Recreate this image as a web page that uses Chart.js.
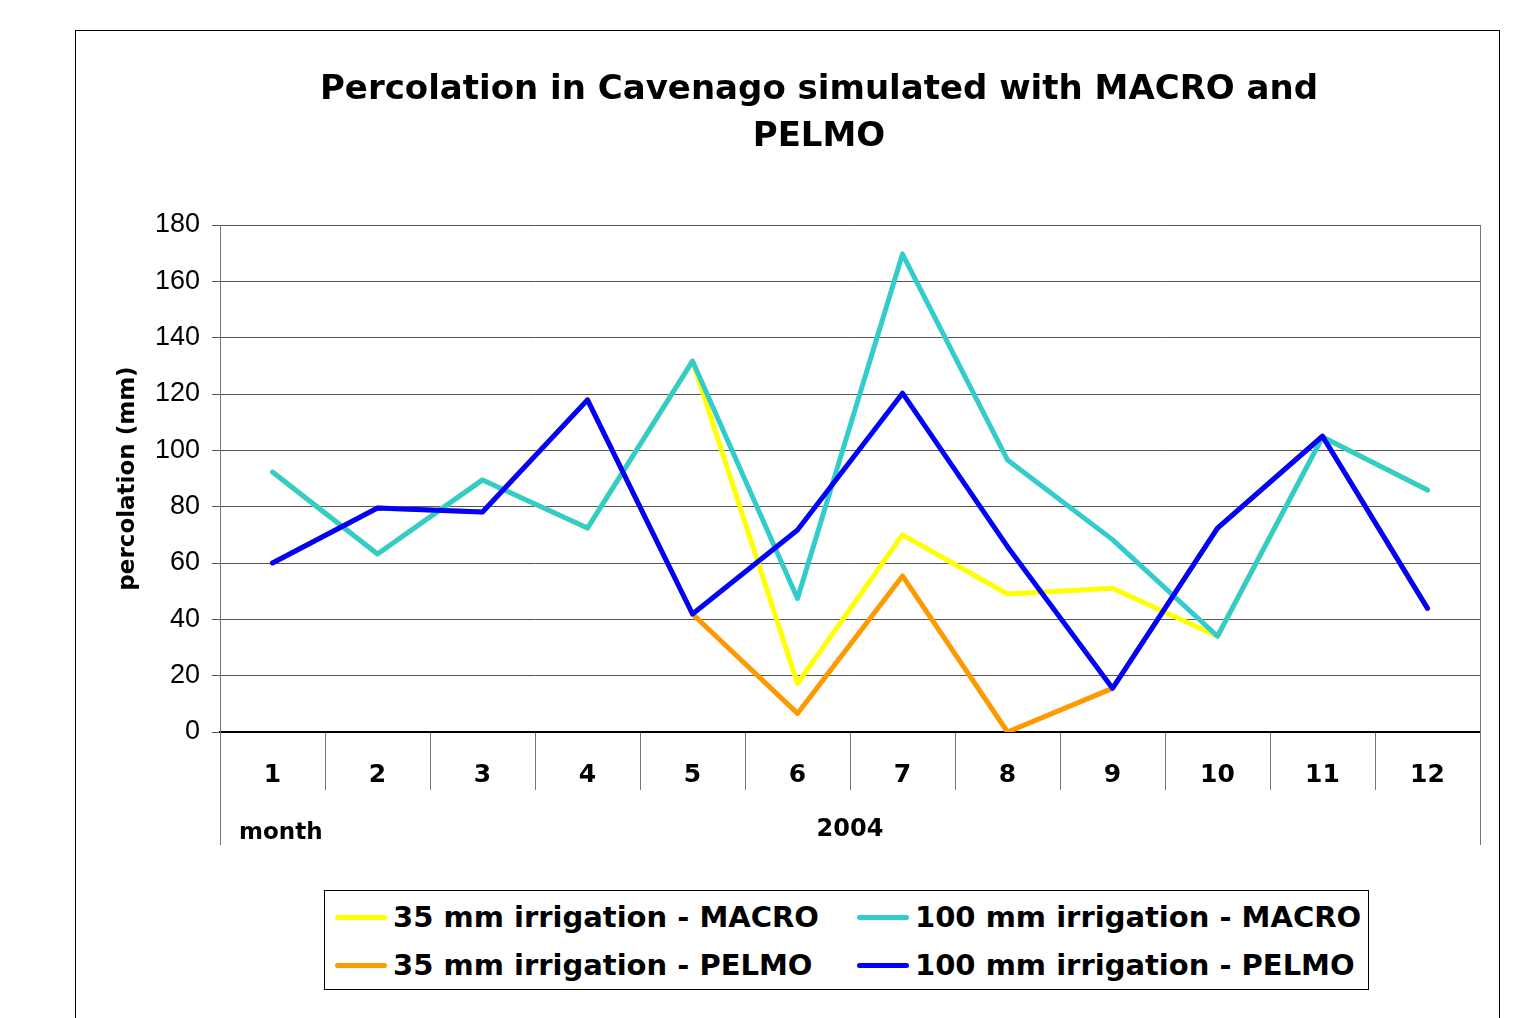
<!DOCTYPE html>
<html>
<head>
<meta charset="utf-8">
<script src="https://cdn.jsdelivr.net/npm/chart.js@4.4.1/dist/chart.umd.min.js"></script>
<style>
  html, body { margin: 0; padding: 0; background: #fff; }
  body { width: 1521px; height: 1018px; position: relative; overflow: hidden; font-family: "DejaVu Sans", Verdana, sans-serif; }
  #frame { position: absolute; left: 75px; top: 30px; width: 1423px; height: 1100px; border: 1px solid #000; }
  #wrap { position: absolute; left: 0; top: 0; width: 1521px; height: 1018px; }
  #legend { position: absolute; left: 324px; top: 890px; width: 1045px; height: 100px; border: 1px solid #000; background: #fff;
            display: grid; grid-template-columns: 532px 511px; grid-auto-rows: 48px; padding-top: 2px; box-sizing: border-box; }
  .item { display: flex; align-items: center; white-space: nowrap; font-weight: bold; font-size: 29px; color: #000; }
  .item:nth-child(odd) { padding-left: 10px; }
  .sw { width: 52px; height: 5px; border-radius: 3px; margin-right: 6px; flex: none; }
</style>
</head>
<body>
<div id="frame"></div>
<div id="wrap"><canvas id="perc-chart" width="1521" height="1018"></canvas></div>
<div id="legend"></div>
<script>
// Данные (мм перколяции по месяцам, 2004)
const months = ['1', '2', '3', '4', '5', '6', '7', '8', '9', '10', '11', '12'];
const macro35  = [92.3, 63.2, 89.5, 72.4, 131.7, 17.2, 70.0, 49.0, 51.0, 34.0, 104.7, 85.9];
const macro100 = [92.3, 63.2, 89.5, 72.4, 131.7, 47.4, 169.7, 96.6, 68.3, 34.0, 104.7, 85.9];
const pelmo35  = [60.0, 79.5, 78.1, 117.9, 41.9, 6.6, 55.4, 0.0, 15.5, 72.4, 105.0, 43.9];
const pelmo100 = [60.0, 79.5, 78.1, 117.9, 41.9, 71.7, 120.3, 65.8, 15.5, 72.4, 105.0, 43.9];
const titleLines = ['Percolation in Cavenago simulated with MACRO and', 'PELMO'];

const FONT = '"DejaVu Sans", Verdana, sans-serif';

// Заголовок, подпись "month" и рамка области построения
const extras = {
    id: 'extras',
    afterDraw(chart) {
        const c = chart.ctx;
        const area = chart.chartArea;
        const x = chart.scales.x;
        c.save();
        c.fillStyle = '#000';
        c.textAlign = 'center';
        c.textBaseline = 'middle';
        c.font = 'bold 34px ' + FONT;
        c.fillText(titleLines[0], 819, 90);
        c.fillText(titleLines[1], 819, 137);

        c.font = 'bold 23px ' + FONT;
        c.textAlign = 'left';
        c.fillText('month', area.left + 19, x.bottom - 12);

        c.strokeStyle = '#777';
        c.lineWidth = 1;
        c.beginPath();
        c.moveTo(area.right + 0.5, area.top);
        c.lineTo(area.right + 0.5, x.bottom);
        c.moveTo(area.left + 0.5, area.bottom);
        c.lineTo(area.left + 0.5, x.bottom);
        c.stroke();
        c.restore();
    }
};

const ctx = document.getElementById('perc-chart').getContext('2d');
const percChart = new Chart(ctx, {
    type: 'line',
    data: {
        labels: months,
        datasets: [
            { label: '35 mm irrigation - MACRO', data: macro35, borderColor: '#FFFF00', order: 4 },
            { label: '100 mm irrigation - MACRO', data: macro100, borderColor: '#33CCCC', order: 2 },
            { label: '35 mm irrigation - PELMO', data: pelmo35, borderColor: '#FF9900', order: 3 },
            { label: '100 mm irrigation - PELMO', data: pelmo100, borderColor: '#0000FF', order: 1 }
        ]
    },
    options: {
        responsive: false,
        animation: false,
        devicePixelRatio: 1,
        layout: { padding: { left: 100, right: 41, top: 225, bottom: 173 } },
        elements: {
            line: { borderWidth: 5, tension: 0, borderCapStyle: 'round', borderJoinStyle: 'round', fill: false },
            point: { radius: 0, hoverRadius: 0 }
        },
        plugins: {
            legend: { display: false },
            title: { display: false },
            tooltip: { enabled: false }
        },
        scales: {
            x: {
                type: 'category',
                offset: true,
                afterFit: (s) => { s.height = 113; },
                grid: { offset: true, drawOnChartArea: false, drawTicks: true, tickLength: 58, color: '#777' },
                border: { color: '#000', width: 2 },
                ticks: { color: '#000', font: { family: FONT, size: 25, weight: 'bold' }, padding: -30, maxRotation: 0, autoSkip: false },
                title: { display: true, text: '2004', color: '#000', font: { family: FONT, size: 24, weight: 'bold' }, padding: { top: 0, bottom: 1 } }
            },
            y: {
                min: 0,
                max: 180,
                afterFit: (s) => { s.width = 120; },
                grid: { color: '#555', tickLength: 8, lineWidth: 1 },
                border: { color: '#777' },
                ticks: { stepSize: 20, color: '#000', font: { family: '"Liberation Sans", Arial, sans-serif', size: 27 }, padding: 12 },
                title: { display: true, text: 'percolation (mm)', color: '#000', font: { family: FONT, size: 23, weight: 'bold' }, padding: { top: 14, bottom: 0 } }
            }
        }
    },
    plugins: [extras]
});

// Легенда в две колонки
const legendBox = document.getElementById('legend');
percChart.data.datasets.forEach(ds => {
    const item = document.createElement('div');
    item.className = 'item';
    const sw = document.createElement('span');
    sw.className = 'sw';
    sw.style.background = ds.borderColor;
    item.appendChild(sw);
    item.appendChild(document.createTextNode(ds.label));
    legendBox.appendChild(item);
});
</script>
</body>
</html>
